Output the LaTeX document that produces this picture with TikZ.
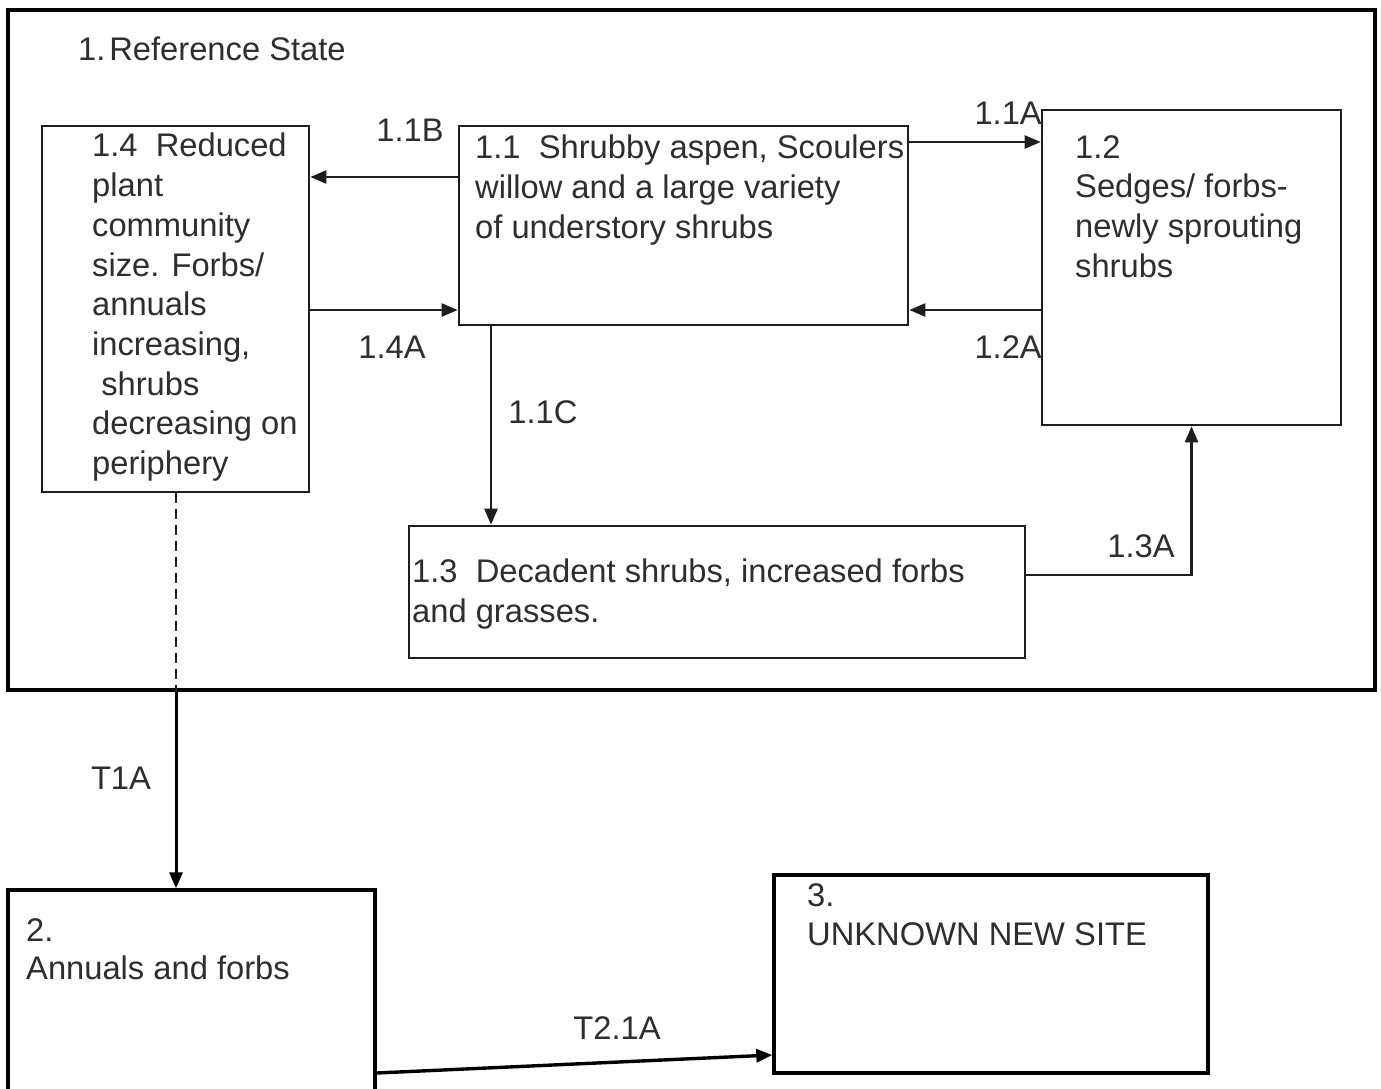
\documentclass[tikz,border=0pt]{standalone}
\usepackage{fontspec}
\setmainfont{Liberation Sans}
\usetikzlibrary{arrows.meta}
\definecolor{ink}{HTML}{1E1E1E}
\definecolor{txt}{HTML}{2E2E2E}
\begin{document}
\begin{tikzpicture}[x=1pt,y=-1pt,
  every node/.style={font=\fontsize{32.7}{39.7}\selectfont, text=txt},
  statebox/.style={draw=ink, line width=2.6pt, rectangle, inner sep=0pt},
  bigbox/.style={draw=black, line width=3.4pt, rectangle, inner sep=0pt},
  frame/.style={draw=black, line width=4pt, rectangle, inner sep=0pt},
  boxtext/.style={anchor=north west, inner sep=0pt, align=left},
  lbl/.style={inner sep=0pt, anchor=center},
  conn/.style={draw=ink, line width=2.4pt, -{Triangle[length=16pt,width=13pt]}},
  dashconn/.style={draw=ink, line width=2.6pt, dash pattern=on 10pt off 6pt}
]
\useasboundingbox (0,0) rectangle (1381,1088);
\clip (0,0) rectangle (1381,1088);
\fill[white] (0,0) rectangle (1381,1088);

% frames and boxes
\node[frame, minimum width=1367pt, minimum height=680pt] (frame) at (691.5,350) {};
\node[statebox, minimum width=267pt, minimum height=366pt] (b14) at (175.5,309) {};
\node[statebox, minimum width=449pt, minimum height=199pt] (b11) at (683.5,225.5) {};
\node[statebox, minimum width=299pt, minimum height=315pt] (b12) at (1191.5,267.5) {};
\node[statebox, minimum width=616pt, minimum height=132pt] (b13) at (717,592) {};
\node[bigbox, minimum width=367pt, minimum height=210pt] (b2) at (191.5,995) {};
\node[bigbox, minimum width=434pt, minimum height=198pt] (b3) at (991,974) {};

% texts
\node[boxtext] (t1) at (78,37) {1.\hspace{0.12em}Reference State};
\node[boxtext] (t14) at (92,133) {1.4~~Reduced\\plant\\community\\size. Forbs/\\annuals\\increasing,\\\hspace*{0.278em}shrubs\\decreasing on\\periphery};
\node[boxtext] (t11) at (475,135) {1.1~~Shrubby aspen, Scoulers\\willow and a large variety\\of understory shrubs};
\node[boxtext] (t12) at (1075,135) {1.2\\Sedges/ forbs-\\newly sprouting\\shrubs};
\node[boxtext] (t13) at (412,559) {1.3~~Decadent shrubs, increased forbs\\and grasses.};
\node[boxtext, font=\fontsize{32.7}{38.5}\selectfont] (t2) at (26,918) {2.\\Annuals and forbs};
\node[boxtext] (t3) at (807,883) {3.\\UNKNOWN NEW SITE};

% connectors
\draw[conn] (b11.west |- 0,177) -- (b14.east |- 0,177);
\draw[conn] (b14.east |- 0,310) -- (b11.west |- 0,310);
\draw[conn] (b11.east |- 0,142) -- (b12.west |- 0,142);
\draw[conn] (b12.west |- 0,310) -- (b11.east |- 0,310);
\draw[conn] (b11.south -| 491,0) -- (b13.north -| 491,0);
\draw[conn] (b13.east |- 0,575) -| (b12.south);
\draw[dashconn] (b14.south -| 176,0) -- (frame.south -| 176,0);
\draw[conn, line width=3pt, draw=black] (frame.south -| 176,0) -- (b2.north -| 176,0);
\draw[conn, line width=3.4pt, draw=black] (b2.east |- 0,1073) -- (b3.west |- 0,1055);

% connector labels
\node[lbl] (l11b) at (410,130) {1.1B};
\node[lbl] (l14a) at (392,347) {1.4A};
\node[lbl, anchor=east] (l11a) at (1042,113) {1.1A};
\node[lbl, anchor=east] (l12a) at (1042,347) {1.2A};
\node[lbl] (l11c) at (543,412) {1.1C};
\node[lbl] (l13a) at (1141,546) {1.3A};
\node[lbl] (lt1a) at (121,778) {T1A};
\node[lbl] (lt21a) at (617,1028) {T2.1A};
\end{tikzpicture}
\end{document}
